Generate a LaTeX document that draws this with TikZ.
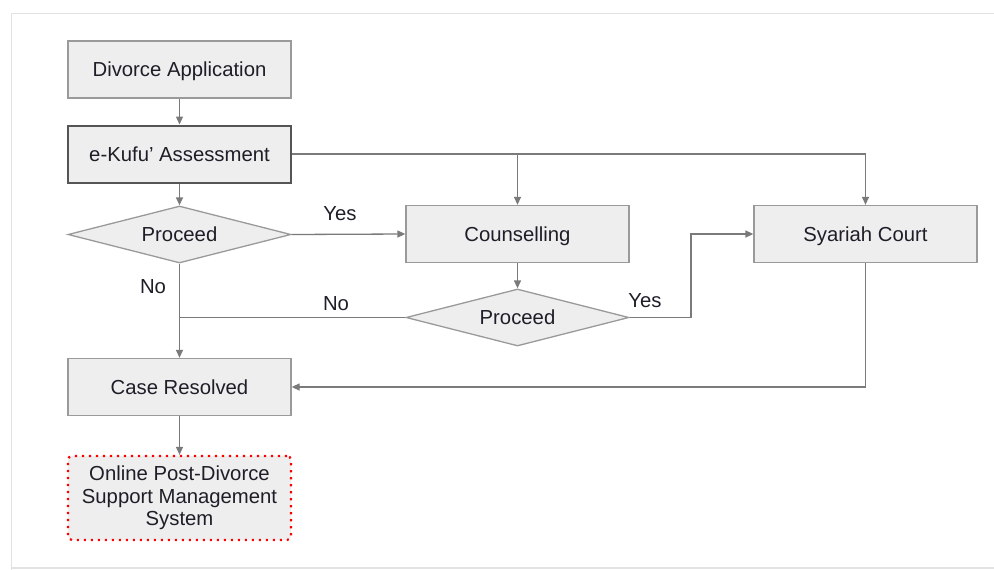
\documentclass[tikz,border=0pt]{standalone}
\usepackage{fontspec}
\setmainfont{Liberation Sans}
\usetikzlibrary{shapes.geometric,arrows.meta}
\definecolor{boxfill}{HTML}{EEEEEE}
\definecolor{boxline}{HTML}{9A9A9A}
\definecolor{darkline}{HTML}{555555}
\definecolor{connline}{HTML}{7A7A7A}
\definecolor{txt}{HTML}{1E1E28}
\definecolor{framecol}{HTML}{E2E2E2}
\tikzset{
  stepbox/.style={draw=boxline, line width=1.3pt, fill=boxfill, rectangle,
    minimum width=223pt, minimum height=57pt, inner sep=0pt, text=txt,
    text height=14.5pt, text depth=0pt,
    font=\fontsize{20.3}{24}\selectfont},
  keybox/.style={stepbox, draw=darkline, line width=2pt},
  decide/.style={draw=boxline, line width=1.3pt, fill=boxfill, diamond, aspect=3.9,
    minimum width=223pt, minimum height=57pt, inner sep=0pt, text=txt,
    text height=14.5pt, text depth=0pt,
    font=\fontsize{20.3}{24}\selectfont},
  outbox/.style={draw=red, line width=2.2pt, fill=boxfill, rectangle, rounded corners=4pt,
    dash pattern=on 2.2pt off 4.8pt,
    minimum width=223pt, minimum height=84pt, inner sep=0pt, text=txt, align=center,
    font=\fontsize{20.3}{22.5}\selectfont},
  arr/.style={draw=connline, line width=1.3pt, -{Triangle[length=8pt,width=7pt]}},
  conn/.style={draw=connline, line width=1.3pt},
  lbl/.style={text=txt, inner sep=0pt, font=\fontsize{20.3}{24}\selectfont}
}
\begin{document}
\begin{tikzpicture}[x=1pt,y=-1pt]
\useasboundingbox (0,0) rectangle (994,570);
\draw[framecol, line width=1.6pt] (11.5,1000) -- (11.5,13.5) -- (1000,13.5);
\draw[framecol, line width=1.2pt] (11.5,568) -- (1000,568);

\node[stepbox] (da) at (179.5,69.5) {Divorce Application};
\node[keybox] (ek) at (179.5,154) {e-Kufu’ Assessment};
\node[decide] (p1) at (179.5,234.5) {Proceed};
\node[stepbox] (couns) at (517.5,234) {Counselling};
\node[stepbox] (syar) at (865.5,234) {Syariah Court};
\node[decide] (p2) at (517.5,317.5) {Proceed};
\node[stepbox] (cr) at (179.5,387) {Case Resolved};
\node[outbox] (online) at (179.5,498) {Online Post-Divorce\\Support Management\\System};

\coordinate (j) at (179.5,317.5);
\coordinate (k) at (691,317.5);

\draw[arr] (da) -- (ek);
\draw[arr] (ek.east) -| (couns.north);
\draw[arr] (ek.east) -| (syar.north);
\draw[arr] (ek) -- (p1);
\draw[arr] (p1.east) -- (couns.west);
\draw[arr] (p1.south) -- (cr.north);
\draw[arr] (couns) -- (p2);
\draw[conn] (p2.west) -- (j);
\draw[arr] (p2.east) -- (k) |- (syar.west);
\draw[arr] (syar.south) |- (cr.east);
\draw[arr] (cr) -- (online);

\node[lbl] (yes1) at (340,214) {Yes};
\node[lbl] (no1) at (153,287) {No};
\node[lbl] (no2) at (336,304) {No};
\node[lbl] (yes2) at (645,301) {Yes};
\end{tikzpicture}
\end{document}
